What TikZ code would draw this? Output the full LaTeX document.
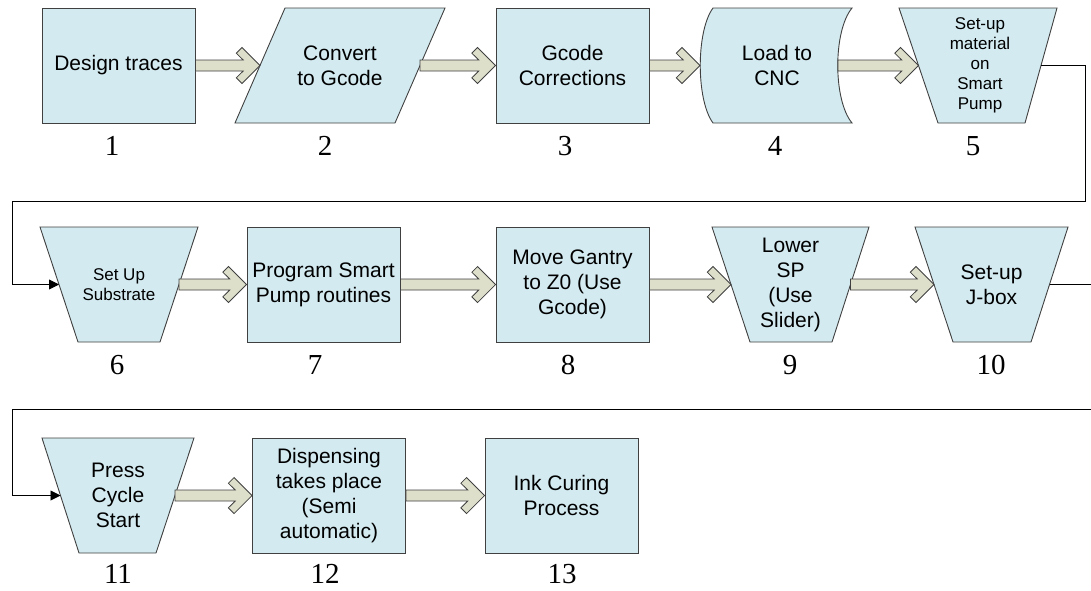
\documentclass[tikz,border=0pt]{standalone}
\usepackage{fontspec}
\setmainfont{Liberation Serif}
\setsansfont{Liberation Sans}
\usetikzlibrary{calc, arrows.meta}

\definecolor{boxblue}{RGB}{211,234,240}
\definecolor{arrowfill}{RGB}{221,223,203}
\definecolor{edgegray}{RGB}{64,64,64}

\tikzset{
  stepshape/.style={fill=boxblue, draw=edgegray, line width=0.9pt},
  stepbox/.style={stepshape, minimum width=153pt, minimum height=115pt},
  boxlabel/.style={font=\sffamily\fontsize{21}{25}\selectfont, align=center, inner sep=0pt},
  smalllabel/.style={font=\sffamily\fontsize{17}{20}\selectfont, align=center, inner sep=0pt},
  numlabel/.style={font=\rmfamily\fontsize{29}{30}\selectfont, inner sep=0pt},
  fatarrow/.style={fill=arrowfill, draw=edgegray, line width=0.8pt},
  loopline/.style={draw=black, line width=0.9pt, -{Triangle[length=10pt,width=10pt]}},
}

% hollow block arrow from #1 to its tip #2 (same height)
\newcommand{\blockarrow}[2]{%
  \draw[fatarrow] let \p1=(#1), \p2=(#2) in
    (\x1,\y1+5.5pt) -- (\x2-16.8pt,\y1+5.5pt) -- (\x2-23.7pt,\y1+12.3pt)
    -- (\x2-18pt,\y1+18pt) -- (\x2,\y1) -- (\x2-18pt,\y1-18pt)
    -- (\x2-23.7pt,\y1-12.3pt) -- (\x2-16.8pt,\y1-5.5pt) -- (\x1,\y1-5.5pt) -- cycle;}

\begin{document}
\begin{tikzpicture}[x=1pt, y=-1pt]
\useasboundingbox (0,0) rectangle (1091,590);

% shaped steps
\filldraw[stepshape] (285,8) -- (445,8) -- (395,123) -- (235,123) -- cycle;
\filldraw[stepshape] (713,8) -- (852,8) .. controls (833,31) and (833,100) .. (852,123)
  -- (713,123) .. controls (696,100) and (696,31) .. (713,8) -- cycle;
\filldraw[stepshape] (899,8) -- (1057,8) -- (1025,123) -- (938,123) -- cycle;
\filldraw[stepshape] (40,227) -- (198,227) -- (160,342) -- (78,342) -- cycle;
\filldraw[stepshape] (712,227) -- (869,227) -- (832,342) -- (750,342) -- cycle;
\filldraw[stepshape] (915,227) -- (1068,227) -- (1031,342) -- (953,342) -- cycle;
\filldraw[stepshape] (42,438) -- (194,438) -- (156,553) -- (79,553) -- cycle;

% steps
\node[stepbox, boxlabel] (n1) at (118.5,65.5) {Design traces};
\node[boxlabel] (n2) at (340,65.5) {Convert\\to Gcode};
\node[stepbox, boxlabel] (n3) at (572.5,65.5) {Gcode\\Corrections};
\node[boxlabel] (n4) at (777,65.5) {Load to\\CNC};
\node[smalllabel] (n5) at (980,65.5) {Set-up\\material\\on\\Smart\\Pump};
\node[smalllabel] (n6) at (119,284.5) {Set Up\\Substrate};
\node[stepbox, boxlabel] (n7) at (323.5,284.5) {Program Smart\\Pump routines};
\node[stepbox, boxlabel] (n8) at (572.5,284.5) {Move Gantry\\to Z0 (Use\\Gcode)};
\node[boxlabel] (n9) at (790.5,284.5) {Lower\\SP\\(Use\\Slider)};
\node[boxlabel] (n10) at (991.5,284.5) {Set-up\\J-box};
\node[boxlabel] (n11) at (118,495.5) {Press\\Cycle\\Start};
\node[stepbox, boxlabel] (n12) at (329,495.5) {Dispensing\\takes place\\(Semi\\automatic)};
\node[stepbox, boxlabel] (n13) at (561.5,495.5) {Ink Curing\\Process};

% edge points of the shaped steps
\coordinate (n2w) at (260,65.5);   \coordinate (n2e) at (420,65.5);
\coordinate (n4w) at (700,65.5);   \coordinate (n4e) at (838,65.5);
\coordinate (n5w) at (918.5,65.5); \coordinate (n5e) at (1041,65.5);
\coordinate (n6w) at (59,284.5);   \coordinate (n6e) at (179,284.5);
\coordinate (n9w) at (731,284.5);  \coordinate (n9e) at (850.5,284.5);
\coordinate (n10w) at (934,284.5); \coordinate (n10e) at (1049.5,284.5);
\coordinate (n11w) at (60.5,495.5); \coordinate (n11e) at (175,495.5);
\coordinate (turn1) at (1085,201); \coordinate (rail1) at (12,201);
\coordinate (turn2) at (1100,409); \coordinate (rail2) at (12,409);

% flow
\blockarrow{n1.east}{n2w}
\blockarrow{n2e}{n3.west}
\blockarrow{n3.east}{n4w}
\blockarrow{n4e}{n5w}
\blockarrow{n6e}{n7.west}
\blockarrow{n7.east}{n8.west}
\blockarrow{n8.east}{n9w}
\blockarrow{n9e}{n10w}
\blockarrow{n11e}{n12.west}
\blockarrow{n12.east}{n13.west}

\draw[loopline] (n5e) -| (turn1) -- (rail1) |- (n6w);
\draw[loopline] (n10e) -| (turn2) -- (rail2) |- (n11w);

% step numbers
\node[numlabel] (lab1) at (112,146) {1};
\node[numlabel] (lab2) at (325,146) {2};
\node[numlabel] (lab3) at (565,146) {3};
\node[numlabel] (lab4) at (775,146) {4};
\node[numlabel] (lab5) at (973,146) {5};
\node[numlabel] (lab6) at (117,365) {6};
\node[numlabel] (lab7) at (315,365) {7};
\node[numlabel] (lab8) at (568,365) {8};
\node[numlabel] (lab9) at (790,365) {9};
\node[numlabel] (lab10) at (991,365) {10};
\node[numlabel] (lab11) at (118,574) {11};
\node[numlabel] (lab12) at (325,574) {12};
\node[numlabel] (lab13) at (562,574) {13};
\end{tikzpicture}
\end{document}
